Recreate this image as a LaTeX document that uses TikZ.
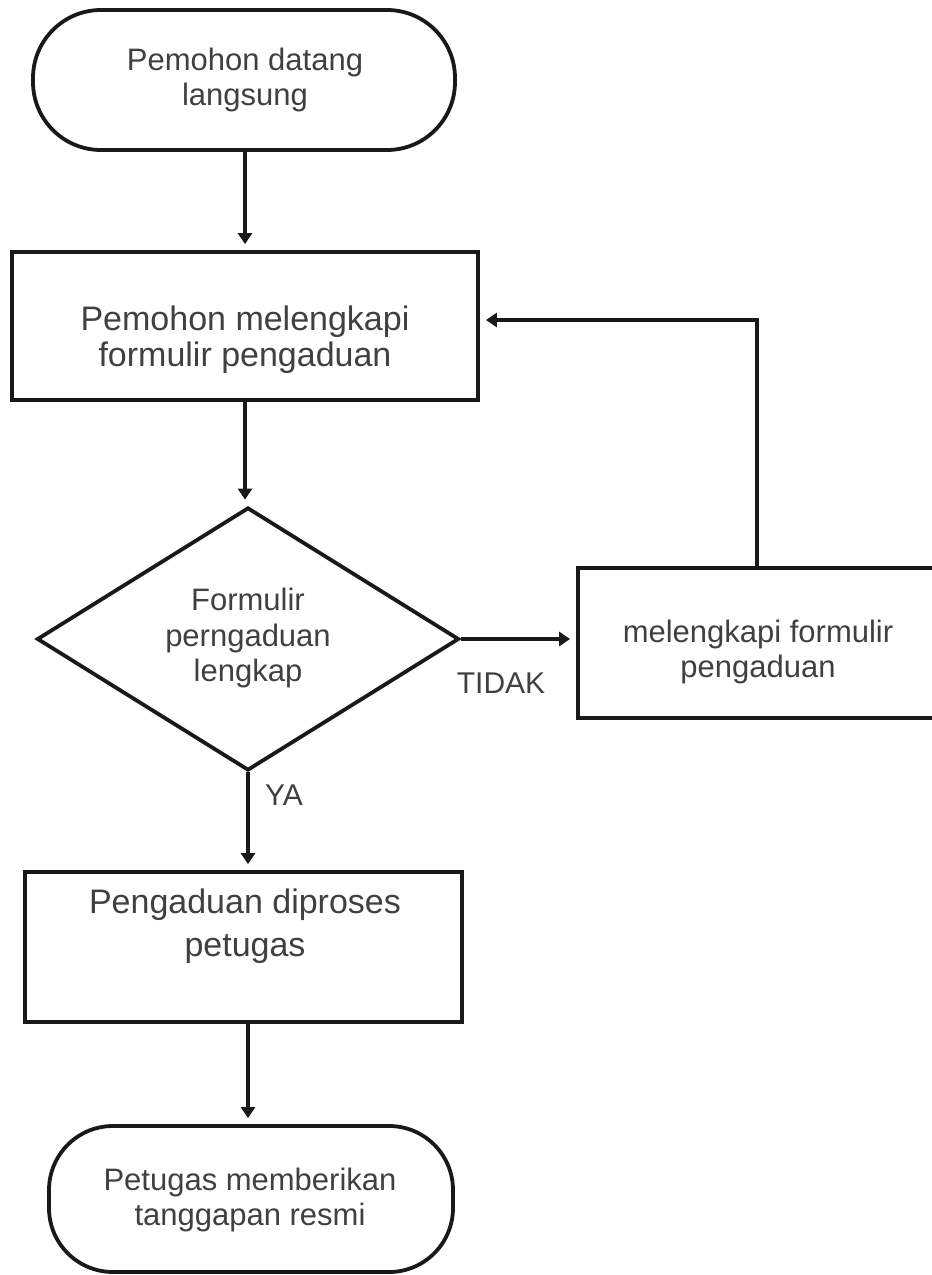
\documentclass[tikz,border=0pt]{standalone}
\usepackage{fontspec}
\setmainfont{Liberation Sans}
\usetikzlibrary{shapes.geometric,arrows.meta}
\begin{document}
\begin{tikzpicture}[x=1pt,y=-1pt,
  shp/.style={draw=black!90,line width=3.8pt,inner sep=0pt},
  term/.style={shp,rounded corners=68pt},
  proc/.style={shp},
  dec/.style={shp,diamond},
  txt/.style={text=black!75,align=center,font=\fontsize{31}{35.5}\selectfont},
  bigtxt/.style={text=black!75,align=center,font=\fontsize{34}{36}\selectfont},
  conn/.style={draw=black!90,line width=3.4pt,-{Triangle[width=14pt,length=11pt]},shorten >=6pt},
  lbl/.style={text=black!75,font=\fontsize{30}{34}\selectfont}
]
\useasboundingbox (0,0) rectangle (932,1275);
% shapes
\node[term,minimum width=422pt,minimum height=140pt] (s) at (244,80) {};
\node[txt] (st) at (245,80) {Pemohon datang\\langsung};

\node[proc,minimum width=466pt,minimum height=148pt] (b2) at (245,326) {};
\node[bigtxt] (b2t) at (245,340) {Pemohon melengkapi\\formulir pengaduan};

\node[dec,minimum width=422pt,minimum height=263pt] (d) at (248,639) {};
\node[txt] (dt) at (248,638) {Formulir\\perngaduan\\lengkap};

\node[proc,minimum width=364pt,minimum height=150pt] (rb) at (760,643) {};
\node[txt] (rbt) at (758,652) {melengkapi formulir\\pengaduan};

\node[proc,minimum width=437pt,minimum height=150pt] (b4) at (243.5,947) {};
\node[bigtxt,font=\fontsize{34}{43}\selectfont] (b4t) at (245,926) {Pengaduan diproses\\petugas};

\node[term,minimum width=404pt,minimum height=146pt,rounded corners=64pt] (e) at (251,1199) {};
\node[txt] (et) at (250,1200) {Petugas memberikan\\tanggapan resmi};

% connectors
\draw[conn] (s.south -| b2.north) -- (b2.north);
\draw[conn] (b2.south) -- (b2.south |- d.north);
\draw[conn] (d.east) -- (d.east -| rb.west);
\draw[conn] ([xshift=-3pt]rb.north) |- ([yshift=6pt]b2.east);
\draw[conn] (d.south) -- (d.south |- b4.north);
\draw[conn] (b4.south -| d.south) -- (d.south |- e.north);

% labels
\node[lbl] (tidak) at (501,683) {TIDAK};
\node[lbl] (ya) at (284,795) {YA};
\end{tikzpicture}
\end{document}
